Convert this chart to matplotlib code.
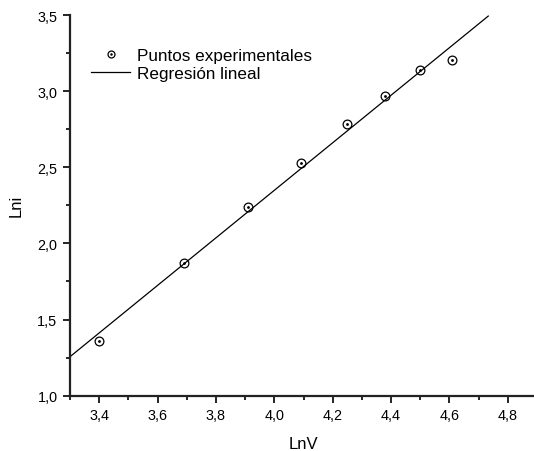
import matplotlib

matplotlib.use("Agg")

import matplotlib.pyplot as plt
from matplotlib.lines import Line2D
from matplotlib.legend_handler import HandlerTuple
from matplotlib.ticker import FuncFormatter, MultipleLocator

plt.rcParams["font.family"] = ["Liberation Sans", "DejaVu Sans"]

# experimental points
ln_v = [3.40, 3.69, 3.91, 4.09, 4.25, 4.38, 4.50, 4.61]
ln_i = [1.36, 1.87, 2.24, 2.53, 2.785, 2.965, 3.14, 3.205]

# fitted line end points
reg_x = [3.30, 4.733]
reg_y = [1.256, 3.493]

x_ticks = [3.4, 3.6, 3.8, 4.0, 4.2, 4.4, 4.6, 4.8]
y_ticks = [1.0, 1.5, 2.0, 2.5, 3.0, 3.5]


def comma(value, pos):
    return f"{value:.1f}".replace(".", ",")


W, H = 534, 452
fig = plt.figure(figsize=(W / 100, H / 100), dpi=100)
ax = fig.add_axes([70 / W, (H - 396.7) / H, (537 - 70) / W, (396.7 - 16) / H])

ax.plot(reg_x, reg_y, color="black", linewidth=0.9, clip_on=False)
ax.plot(ln_v, ln_i, linestyle="none", marker="o", markersize=6.3,
        markerfacecolor="none", markeredgecolor="black", markeredgewidth=0.9)
ax.plot(ln_v, ln_i, linestyle="none", marker="o", markersize=1,
        markerfacecolor="black", markeredgecolor="black")

ax.set_xlim(3.3, 4.9)
ax.set_ylim(1.0, 3.5)
ax.set_xticks(x_ticks)
ax.set_yticks(y_ticks)
ax.xaxis.set_minor_locator(MultipleLocator(0.1))
ax.yaxis.set_minor_locator(MultipleLocator(0.25))
ax.xaxis.set_major_formatter(FuncFormatter(comma))
ax.yaxis.set_major_formatter(FuncFormatter(comma))

for side in ["top", "right"]:
    ax.spines[side].set_visible(False)
for side in ["left", "bottom"]:
    ax.spines[side].set_linewidth(1.6)
    ax.spines[side].set_color("#222222")

ax.tick_params(which="major", direction="out", length=5, width=1.2, labelsize=10.4, pad=4)
ax.tick_params(which="minor", direction="out", length=3, width=1.2)

ax.set_xlabel("LnV", fontsize=12, labelpad=10)
ax.set_ylabel("Lni", fontsize=12, labelpad=10)

pt_open = Line2D([], [], linestyle="none", marker="o", markersize=5,
                 markerfacecolor="none", markeredgecolor="black", markeredgewidth=0.9)
pt_dot = Line2D([], [], linestyle="none", marker="o", markersize=0.8,
                markerfacecolor="black", markeredgecolor="black")
reg_line = Line2D([], [], color="black", linewidth=0.9)

ax.legend([(pt_open, pt_dot), reg_line], ["Puntos experimentales", "Regresión lineal"],
          handler_map={tuple: HandlerTuple(ndivide=1)},
          loc="upper left", bbox_to_anchor=(91 / W, 1 - 49 / H),
          bbox_transform=fig.transFigure, frameon=False, fontsize=12.3,
          handlelength=2.3, handletextpad=0.4, labelspacing=0.2,
          borderpad=0, borderaxespad=0)

fig.savefig("out.png", dpi=100)
